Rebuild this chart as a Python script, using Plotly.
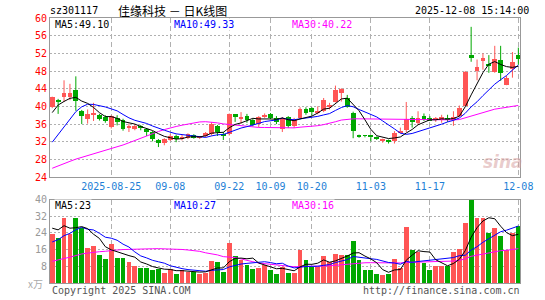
import plotly.graph_objects as go
import pandas as pd

# ---------------- data ----------------
holidays = ["2025-10-01", "2025-10-02", "2025-10-03", "2025-10-06", "2025-10-07", "2025-10-08"]
dates = [d.strftime("%Y-%m-%d") for d in pd.bdate_range("2025-08-11", "2025-12-08")
         if d.strftime("%Y-%m-%d") not in holidays]

opens = [39.8, 41.4, 42.1, 42.1, 43.6, 39.0, 37.2, 38.2, 38.0, 37.7,
         35.3, 37.3, 37.0, 35.2, 34.9, 35.5, 34.9, 34.1, 32.4, 31.7,
         32.5, 33.4, 32.6, 32.9, 33.6, 32.9, 33.2, 33.7, 35.6, 33.8,
         33.7, 38.2, 37.3, 37.8, 37.0, 36.0, 37.7, 38.3, 37.3, 34.8,
         37.5, 35.5, 37.4, 39.5, 39.6, 38.5, 38.9, 39.8, 41.1, 43.0,
         41.9, 38.5, 33.4, 33.4, 33.4, 33.1, 32.2, 32.4, 32.1, 34.1,
         34.7, 37.3, 36.2, 37.8, 37.3, 37.0, 37.1, 37.4, 36.9, 37.8,
         40.2, 51.6, 47.9, 50.3, 49.4, 47.8, 50.5, 44.9, 48.5, 51.6]
highs = [42.2, 41.7, 45.9, 45.1, 46.8, 39.2, 39.3, 40.8, 38.3, 38.0,
         38.0, 38.0, 37.2, 36.1, 36.0, 35.8, 35.1, 34.4, 32.6, 32.8,
         33.7, 33.6, 33.6, 33.9, 33.7, 33.3, 34.2, 36.4, 35.8, 34.2,
         38.4, 38.2, 38.7, 38.3, 37.2, 37.8, 38.4, 38.5, 37.8, 37.6,
         37.8, 37.4, 39.8, 39.8, 39.8, 40.0, 41.9, 40.8, 44.7, 44.1,
         42.6, 38.8, 33.6, 33.5, 33.4, 33.2, 32.7, 32.5, 34.4, 35.2,
         41.0, 37.8, 38.9, 38.4, 37.8, 37.6, 38.1, 38.1, 38.9, 40.2,
         48.0, 58.0, 50.6, 52.0, 51.6, 53.7, 53.7, 46.9, 52.3, 53.3]
lows = [39.6, 38.3, 41.0, 41.4, 39.0, 36.0, 36.1, 36.7, 36.8, 36.3,
        35.0, 35.7, 34.5, 34.2, 34.6, 34.6, 33.3, 32.1, 30.8, 31.2,
        32.2, 31.9, 32.3, 32.6, 32.7, 32.6, 33.0, 33.4, 33.3, 32.4,
        33.4, 36.5, 36.1, 36.3, 35.5, 35.3, 37.4, 37.1, 36.0, 34.2,
        35.1, 35.1, 37.1, 38.1, 38.0, 38.2, 38.7, 39.3, 40.9, 41.1,
        39.7, 32.8, 32.9, 33.0, 32.1, 32.4, 31.8, 31.6, 31.6, 33.9,
        34.2, 35.2, 35.8, 36.7, 36.7, 36.5, 36.3, 36.5, 35.6, 37.6,
        40.0, 50.1, 45.9, 48.3, 47.6, 47.6, 45.8, 44.8, 46.5, 49.4]
closes = [42.1, 40.9, 43.0, 43.0, 41.2, 37.9, 38.3, 38.4, 37.1, 36.8,
          37.8, 36.4, 34.8, 35.4, 35.6, 35.0, 34.1, 32.6, 31.8, 32.6,
          33.4, 32.6, 33.1, 33.7, 32.9, 33.1, 34.0, 36.0, 34.3, 33.3,
          38.2, 37.8, 37.7, 36.9, 35.9, 37.5, 38.1, 37.4, 36.5, 37.4,
          35.5, 37.0, 39.4, 38.4, 38.7, 39.0, 41.4, 40.4, 43.6, 44.0,
          39.9, 34.4, 33.2, 33.3, 33.2, 32.7, 32.4, 32.0, 34.0, 34.3,
          37.2, 36.4, 37.3, 37.0, 36.9, 37.2, 37.5, 37.0, 37.6, 39.7,
          47.8, 50.9, 48.9, 50.9, 49.3, 50.7, 47.6, 46.5, 50.0, 50.7]
volumes = [23.9, 22.0, 31.2, 23.9, 31.6, 26.6, 17.1, 17.8, 13.8, 11.8,
           19.1, 12.3, 12.3, 10.2, 8.1, 7.5, 7.5, 6.2, 6.8, 5.2,
           6.8, 4.6, 6.2, 5.4, 5.4, 4.6, 5.2, 10.7, 10.2, 5.4,
           19.4, 13.3, 11.4, 8.6, 7.0, 7.5, 8.6, 6.5, 4.6, 8.0,
           5.1, 5.1, 15.8, 11.0, 7.8, 7.8, 13.0, 10.2, 14.3, 13.4,
           13.8, 20.2, 11.0, 6.2, 6.5, 4.6, 3.8, 4.6, 11.8, 7.5,
           27.1, 15.9, 15.1, 9.7, 6.5, 8.5, 8.3, 8.3, 15.1, 16.7,
           29.2, 40.5, 31.2, 31.2, 24.4, 26.8, 22.6, 15.8, 24.0, 27.6]
# sessions before the visible window (only feed the moving averages)
prior_closes = [27.0, 26.6, 26.4, 26.1, 26.5, 26.0, 25.6, 25.8, 26.1, 25.9,
                23.5, 22.0, 20.5, 19.5, 18.5, 18.0, 18.0, 18.5, 19.5, 21.0,
                24.0, 24.5, 25.0, 25.5, 27.0, 32.4, 38.9, 39.5, 40.1]
prior_volumes = [6.5, 5.8, 5.2, 6.0, 5.5, 5.0, 5.3, 6.2, 5.8, 5.4,
                 7.0, 6.4, 5.9, 5.1, 4.8, 5.6, 6.3, 5.5, 6.1, 5.6,
                 11.0, 12.0, 13.0, 14.0, 15.5, 26.0, 21.2, 29.9, 30.5]

tick_dates = ["2025-08-25", "2025-09-08", "2025-09-22", "2025-10-09",
              "2025-10-20", "2025-11-03", "2025-11-17", "2025-12-08"]
tick_text = ["2025-08-25", "09-08", "09-22", "10-09", "10-20", "11-03", "11-17", "12-08"]
price_ticks = [24, 28, 32, 36, 40, 44, 48, 52, 56, 60]
vol_ticks = [8, 16, 24, 32, 40]

# ---------------- derived ----------------
n = len(dates)
idx = list(range(n))
np_ = len(prior_closes)
cs = pd.Series(prior_closes + closes)
vs = pd.Series(prior_volumes + volumes)
ma = {w: cs.rolling(w).mean().iloc[np_:].tolist() for w in (5, 10, 30)}
vma = {w: vs.rolling(w).mean().iloc[np_:].tolist() for w in (5, 10, 30)}

RED = "#ff5555"
GREEN = "#00a800"
up = [c >= o for o, c in zip(opens, closes)]
colors = [RED if u else GREEN for u in up]

# ---------------- geometry ----------------
W, H = 545, 300
ML, MR, MT, MB = 50, 17, 18, 15
PW, PH = W - ML - MR, H - MT - MB


def fx(xp):
    return (xp - ML) / PW


def fy(yp):
    return (H - MB - yp) / PH


fig = go.Figure()

# wicks
for flag, col in ((True, RED), (False, GREEN)):
    wx, wy = [], []
    for i in idx:
        if up[i] == flag:
            wx += [i, i, None]
            wy += [lows[i], highs[i], None]
    fig.add_trace(go.Scatter(x=wx, y=wy, mode="lines", line=dict(color=col, width=1),
                             xaxis="x", yaxis="y", hoverinfo="skip", showlegend=False))

# bodies
body_base = [min(o, c) for o, c in zip(opens, closes)]
body_h = [max(abs(c - o), 0.15) for o, c in zip(opens, closes)]
fig.add_trace(go.Bar(x=idx, y=body_h, base=body_base, width=0.8,
                     marker=dict(color=colors, line=dict(width=0)),
                     xaxis="x", yaxis="y", showlegend=False))

# price MAs
for w, col in ((30, "#ff00ff"), (10, "#0000ff"), (5, "#000000")):
    fig.add_trace(go.Scatter(x=idx, y=ma[w], mode="lines", line=dict(color=col, width=1),
                             xaxis="x", yaxis="y", showlegend=False))

# volume
fig.add_trace(go.Bar(x=idx, y=volumes, width=0.82,
                     marker=dict(color=colors, line=dict(width=0)),
                     xaxis="x2", yaxis="y2", showlegend=False))
for w, col in ((30, "#ff00ff"), (10, "#0000ff"), (5, "#000000")):
    fig.add_trace(go.Scatter(x=idx, y=vma[w], mode="lines", line=dict(color=col, width=1),
                             xaxis="x2", yaxis="y2", showlegend=False))

tickvals = [dates.index(d) for d in tick_dates]
xr = [-0.38, n - 1 + 0.28]
MONO = "DejaVu Sans Mono"
GRIDC = "#b0b0b0"
FRAME = "#999999"

xcommon = dict(range=xr, tickvals=tickvals, showgrid=True, gridcolor=GRIDC,
               griddash="5px,3px", gridwidth=1, zeroline=False, showline=True,
               linecolor=FRAME, linewidth=1, mirror=True, ticks="")

fig.update_layout(
    width=W, height=H, margin=dict(l=ML, r=MR, t=MT, b=MB),
    paper_bgcolor="white", plot_bgcolor="white", barmode="overlay",
    bargap=0, showlegend=False,
    xaxis=dict(**xcommon, domain=[0, 1], anchor="y", ticktext=tick_text,
               tickfont=dict(family=MONO, size=10, color="#1e7fd6")),
    xaxis2=dict(**xcommon, domain=[0, 1], anchor="y2", showticklabels=False),
    yaxis=dict(domain=[fy(178.3), 1.0], range=[24, 60], tickvals=price_ticks,
               showgrid=True, gridcolor=GRIDC, griddash="2px,2px", zeroline=False,
               showline=True, linecolor=FRAME, mirror=True, ticks="",
               tickfont=dict(family=MONO, size=10, color="#ff0000")),
    yaxis2=dict(domain=[0, fy(201)], range=[0, 40], tickvals=vol_ticks,
                showgrid=True, gridcolor=GRIDC, griddash="2px,2px", zeroline=False,
                showline=True, linecolor=FRAME, mirror=True, ticks="",
                tickfont=dict(family=MONO, size=10, color="#999999")),
)


def ann(text, xp, yp, color="#000", size=10, family=MONO, xanchor="left", bg=None, **kw):
    d = dict(text=text, x=fx(xp), y=fy(yp), xref="paper", yref="paper",
             showarrow=False, xanchor=xanchor, yanchor="middle",
             font=dict(family=family, size=size, color=color))
    if bg:
        d["bgcolor"] = bg
        d["borderpad"] = 0
    d.update(kw)
    fig.add_annotation(**d)


ann("sz301117", 48, 10)
ann("佳缘科技 － 日K线图", 117, 9.5, size=12, family="Noto Sans CJK SC", height=14)
ann("2025-12-08 15:14:00", 539, 10, xanchor="right")

ann(f"MA5:{ma[5][-1]:.2f}", 54, 25, color="#000000", bg="white")
ann(f"MA10:{ma[10][-1]:.2f}", 175, 25, color="#0000ff", bg="white")
ann(f"MA30:{ma[30][-1]:.2f}", 295, 25, color="#ff00ff", bg="white")

ann(f"MA5:{vma[5][-1]:.0f}", 54, 207, color="#000000", bg="white")
ann(f"MA10:{vma[10][-1]:.0f}", 175, 207, color="#0000ff", bg="white")
ann(f"MA30:{vma[30][-1]:.0f}", 295, 207, color="#ff00ff", bg="white")

ann("x万", 45, 286, color="#aaaaaa", xanchor="right", family="Noto Sans CJK SC")
ann("Copyright 2025 SINA.COM", 50, 293, color="#555555")
ann("http://finance.sina.com.cn", 530, 293, color="#555555", xanchor="right")
ann("<b><i>sina</i></b>", 511, 163, color="rgba(215,160,160,0.55)", size=17,
    family="DejaVu Sans", xanchor="center")

fig.write_html("out.html")
